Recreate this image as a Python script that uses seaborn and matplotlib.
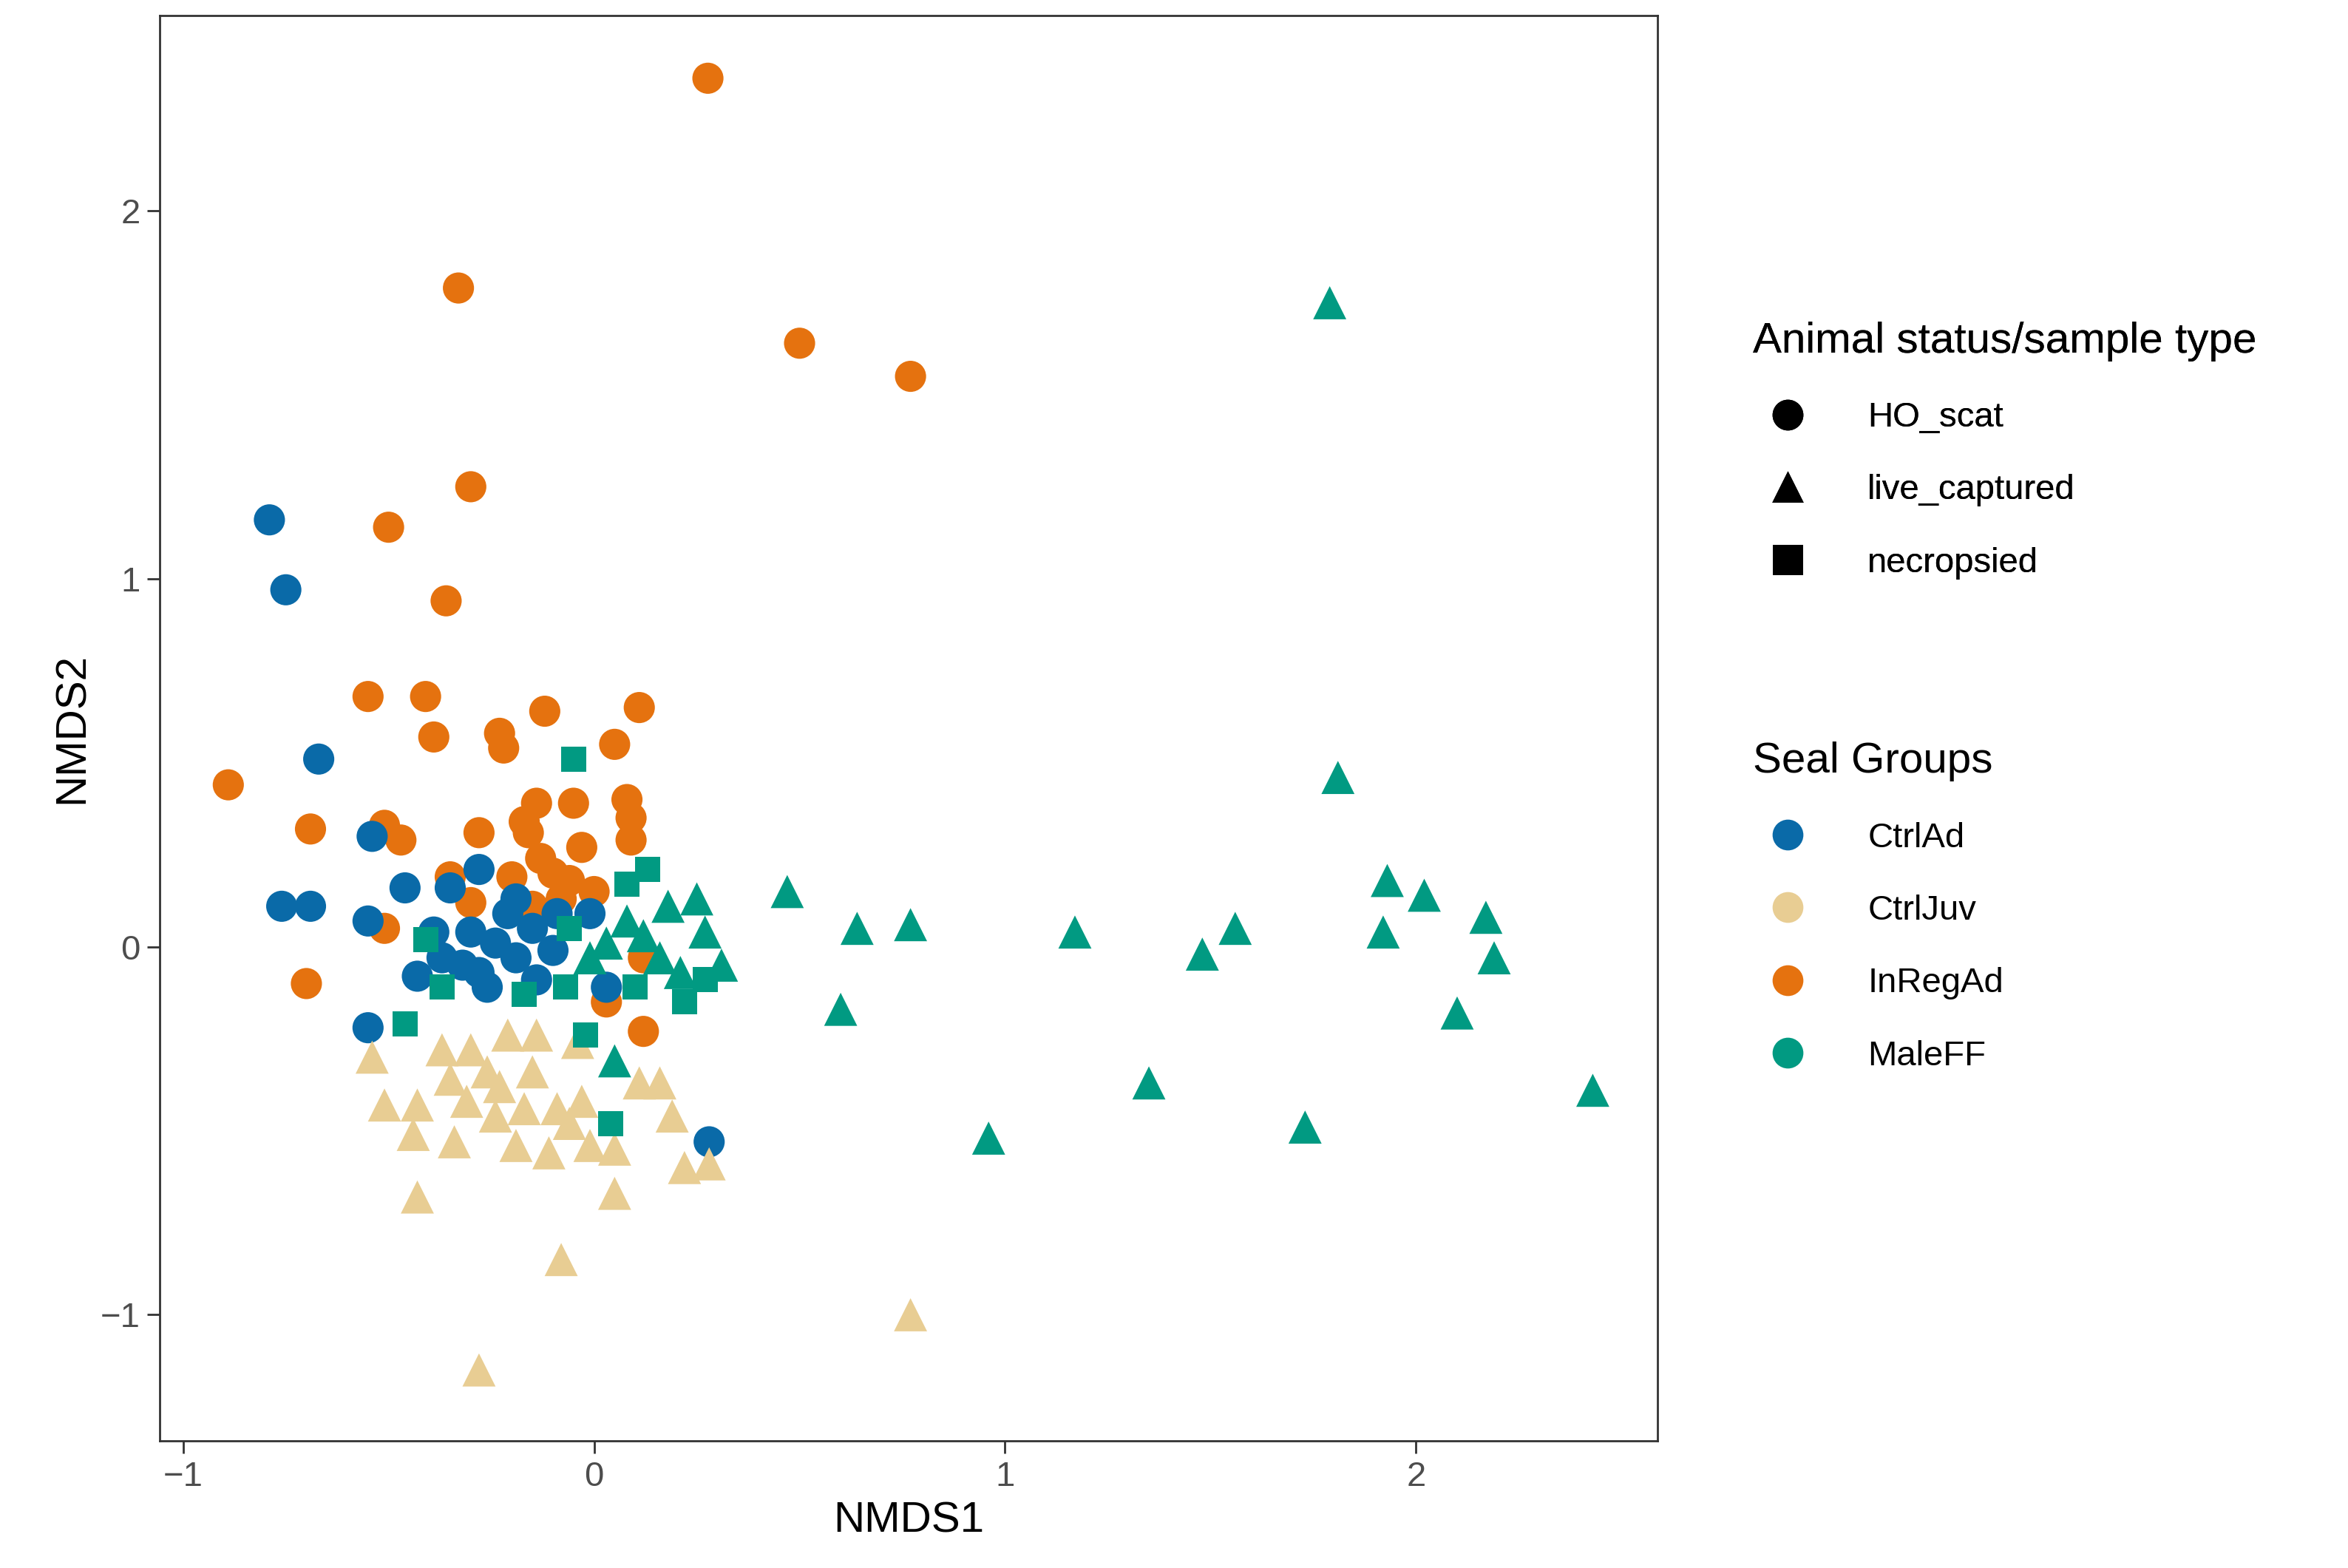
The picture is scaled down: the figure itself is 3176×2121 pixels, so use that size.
import matplotlib
matplotlib.use("Agg")
import matplotlib.pyplot as plt
import seaborn as sns
import pandas as pd
from matplotlib.lines import Line2D

plt.rcParams["font.family"] = "Liberation Sans"

inreg_x = [0.277,-0.33,0.50,0.77,-0.30,-0.50,-0.36,-0.55,-0.41,-0.39,-0.89,-0.69,-0.23,-0.22,-0.12,0.11,0.05,-0.14,-0.05,0.08,0.09,0.09,-0.03,-0.51,-0.47,-0.28,-0.17,-0.16,-0.13,-0.2,-0.10,-0.06,0,-0.35,-0.30,-0.51,-0.70,0.12,0.03,-0.08,-0.15,0.12]
inreg_y = [2.36,1.79,1.64,1.55,1.25,1.14,0.94,0.68,0.68,0.57,0.44,0.32,0.58,0.54,0.64,0.65,0.55,0.39,0.39,0.40,0.35,0.29,0.27,0.33,0.29,0.31,0.34,0.31,0.24,0.19,0.20,0.18,0.15,0.19,0.12,0.05,-0.10,-0.23,-0.15,0.13,0.11,-0.03]
ctrlad_x = [-0.79,-0.75,-0.67,-0.54,-0.76,-0.69,-0.55,-0.55,-0.46,-0.35,-0.28,0.03,0.28,-0.39,-0.43,-0.37,-0.30,-0.28,-0.24,-0.21,-0.19,-0.15,-0.14,-0.10,-0.09,-0.19,-0.26,-0.32,-0.01]
ctrlad_y = [1.16,0.97,0.51,0.30,0.11,0.11,0.07,-0.22,0.16,0.16,0.21,-0.11,-0.53,0.04,-0.08,-0.03,0.04,-0.07,0.01,0.09,-0.03,0.05,-0.09,-0.01,0.09,0.13,-0.11,-0.05,0.09]
juv_x = [-0.28,0.77,-0.08,-0.43,0.05,0.22,0.28,-0.54,-0.51,-0.43,-0.44,-0.37,-0.35,-0.34,-0.31,-0.26,-0.24,-0.21,-0.19,-0.15,-0.14,-0.11,-0.09,-0.04,-0.03,-0.01,0.05,0.11,0.16,0.19,-0.17,-0.30,-0.23,-0.06]
juv_y = [-1.15,-1.0,-0.85,-0.68,-0.67,-0.60,-0.59,-0.30,-0.43,-0.43,-0.51,-0.28,-0.36,-0.53,-0.42,-0.34,-0.46,-0.24,-0.54,-0.34,-0.24,-0.56,-0.44,-0.26,-0.42,-0.54,-0.55,-0.37,-0.37,-0.46,-0.44,-0.28,-0.38,-0.48]
maletri_x = [1.79,1.81,1.93,2.02,1.92,2.17,2.19,2.10,2.43,1.73,1.35,1.56,1.48,1.17,0.96,0.77,0.64,0.60,0.47,0.05,0.25,0.27,0.31,0.18,0.12,0.08,0.16,0.21,-0.01,0.03]
maletri_y = [1.75,0.46,0.18,0.14,0.04,0.08,-0.03,-0.18,-0.39,-0.49,-0.37,0.05,-0.02,0.04,-0.52,0.06,0.05,-0.17,0.15,-0.31,0.13,0.04,-0.05,0.11,0.03,0.07,-0.03,-0.07,-0.03,0.01]
malesq_x = [-0.05,0.13,0.08,-0.46,-0.37,-0.02,0.04,0.22,-0.06,-0.07,0.10,0.27,-0.17,-0.41]
malesq_y = [0.51,0.21,0.17,-0.21,-0.11,-0.24,-0.48,-0.15,0.05,-0.11,-0.11,-0.09,-0.13,0.02]

groups = ["CtrlAd", "CtrlJuv", "InRegAd", "MaleFF"]
types = ["HO_scat", "live_captured", "necropsied"]
colors = {"CtrlAd": "#0A6AA8", "CtrlJuv": "#E8CD93", "InRegAd": "#E5720F", "MaleFF": "#019A82"}
markers = {"HO_scat": "o", "live_captured": "^", "necropsied": "s"}
sizes = {"HO_scat": 230, "live_captured": 260, "necropsied": 150}

frames = [
    pd.DataFrame({"x": malesq_x, "y": malesq_y, "g": "MaleFF", "t": "necropsied"}),
    pd.DataFrame({"x": juv_x, "y": juv_y, "g": "CtrlJuv", "t": "live_captured"}),
    pd.DataFrame({"x": maletri_x, "y": maletri_y, "g": "MaleFF", "t": "live_captured"}),
    pd.DataFrame({"x": inreg_x, "y": inreg_y, "g": "InRegAd", "t": "HO_scat"}),
    pd.DataFrame({"x": ctrlad_x, "y": ctrlad_y, "g": "CtrlAd", "t": "HO_scat"}),
]
df = pd.concat(frames, ignore_index=True)

fig = plt.figure(figsize=(15.88, 10.605), dpi=200)
ax = fig.add_axes([0.068, 0.081, 0.638, 0.909])
for t in types:
    sub = df[df["t"] == t]
    sns.scatterplot(data=sub, x="x", y="y", hue="g", palette=colors, hue_order=groups,
                    marker=markers[t], s=sizes[t], linewidth=0, ax=ax, legend=False)
ax.set_xlim(-1.057, 2.588)
ax.set_ylim(-1.343, 2.53)
ax.set_xticks([-1, 0, 1, 2])
ax.set_yticks([-1, 0, 1, 2])
ax.tick_params(labelsize=17, labelcolor="#4D4D4D", color="#333333", length=6, width=1)
for sp in ax.spines.values():
    sp.set_color("#333333"); sp.set_linewidth(1)
ax.set_xlabel("NMDS1", fontsize=21)
ax.set_ylabel("NMDS2", fontsize=21)

h1 = [Line2D([], [], marker=markers[t], color="black", linestyle="", markersize=14) for t in types]
leg1 = fig.legend(h1, types, title="Animal status/sample type", loc="upper left",
                  bbox_to_anchor=(0.733, 0.815), frameon=False, fontsize=17,
                  title_fontsize=21, alignment="left", labelspacing=1.15, handletextpad=1.3)
fig.add_artist(leg1)
h2 = [Line2D([], [], marker="o", color=colors[g], linestyle="", markersize=14) for g in groups]
fig.legend(h2, groups, title="Seal Groups", loc="upper left",
           bbox_to_anchor=(0.733, 0.547), frameon=False, fontsize=17,
           title_fontsize=21, alignment="left", labelspacing=1.15, handletextpad=1.3)

fig.savefig("out.png", dpi=200)
